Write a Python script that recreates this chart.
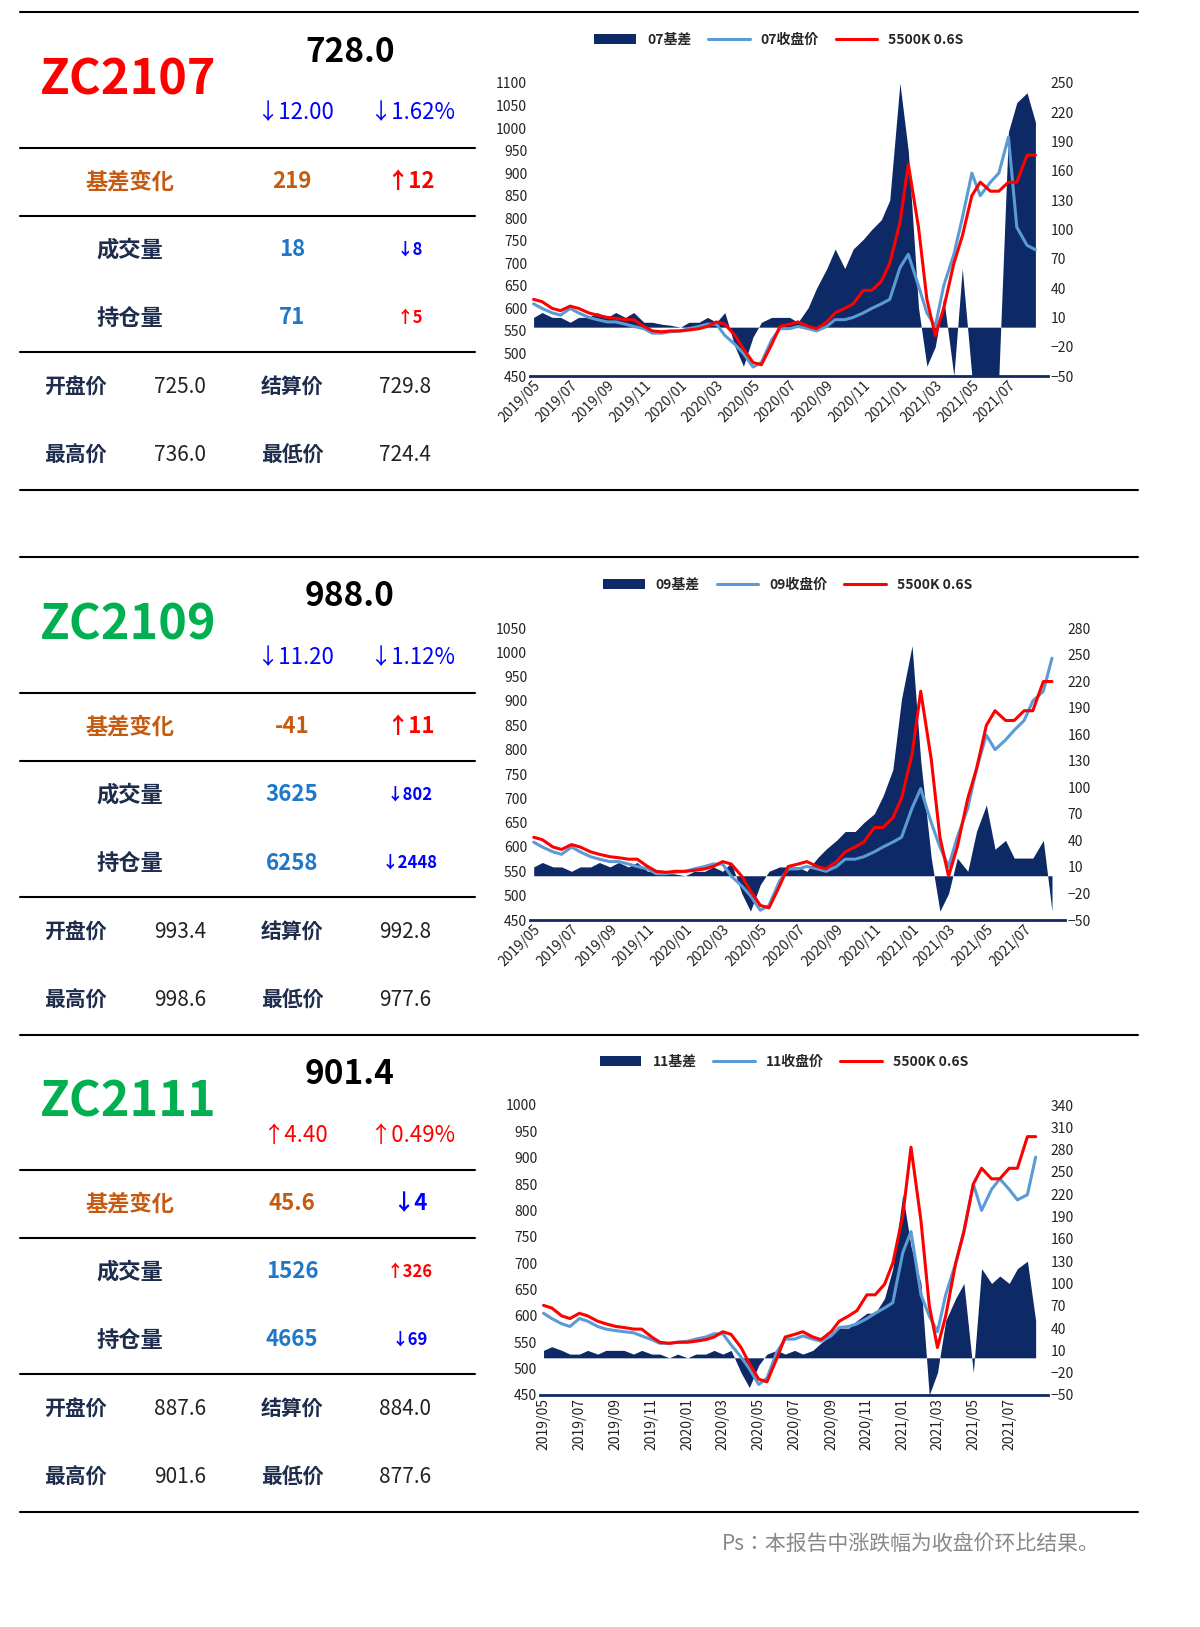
import numpy as np, pandas as pd, matplotlib
matplotlib.use("Agg")
import matplotlib.pyplot as plt, seaborn as sns
from matplotlib import font_manager as fm

sns.set_style("white")
cjk = [f.name for f in fm.fontManager.ttflist if "CJK" in f.name]
cjk_name = "Noto Sans CJK SC" if "Noto Sans CJK SC" in cjk else (cjk[0] if cjk else "DejaVu Sans")
plt.rcParams["font.family"] = "sans-serif"
plt.rcParams["font.sans-serif"] = [cjk_name, "DejaVu Sans"]

dates = pd.date_range("2019-05-01", periods=56, freq="SMS")
tick_labels = ["2019/05","2019/07","2019/09","2019/11","2020/01","2020/03","2020/05",
               "2020/07","2020/09","2020/11","2021/01","2021/03","2021/05","2021/07"]

spot = [620,615,600,595,605,600,590,585,580,578,575,575,560,550,548,550,550,552,555,560,
        570,565,540,510,480,475,520,560,565,570,560,555,570,590,600,610,640,640,660,700,
        790,920,780,620,540,600,700,760,850,880,860,860,880,880,940,940]
close07 = [610,600,590,585,600,590,580,575,570,570,565,560,555,545,545,548,550,555,560,565,
           565,540,520,500,470,480,530,555,555,560,555,550,560,575,575,580,590,600,610,620,
           690,720,650,590,560,650,720,800,900,850,880,900,980,780,740,730]
close09 = [610,600,590,585,600,590,580,575,570,570,565,560,555,545,545,548,550,555,560,565,
           565,540,520,500,470,480,530,555,555,560,555,550,560,575,575,580,590,600,610,620,
           680,720,650,600,560,620,680,760,830,800,820,840,860,900,920,988]
close11 = [605,595,585,580,595,590,580,575,572,570,568,562,555,548,548,550,552,556,560,566,
           566,545,522,500,470,482,532,556,556,562,556,552,562,578,580,585,595,605,615,625,
           720,760,640,600,570,640,700,760,850,800,840,860,840,820,830,901]
basis07 = [10,15,10,10,5,10,10,15,10,15,10,15,5,5,3,2,0,5,5,10,5,15,-20,-40,-10,5,10,10,10,5,
           20,40,60,80,60,80,90,100,110,130,250,180,20,-40,-20,30,-50,60,-50,-50,-50,-50,200,230,240,210]
basis09 = [10,15,10,10,5,10,10,15,10,15,10,15,5,5,3,2,0,5,5,10,5,15,-20,-40,-10,5,10,10,10,5,
           20,30,40,50,50,60,70,90,120,200,260,130,20,-40,-20,20,5,50,80,30,40,20,20,20,40,-40]
basis11 = [10,15,10,5,5,10,5,10,10,10,5,10,5,5,0,5,0,5,5,10,5,10,-20,-40,-10,5,10,5,10,5,
           10,20,30,40,40,50,60,60,80,120,220,150,100,-50,-20,50,80,100,-20,120,100,110,100,120,130,50]

panels = [
  dict(code="ZC2107", ccol="#ff0000", price="728.0", chg="↓12.00", pct="↓1.62%", chgcol="#0000ff",
       basis="219", bchg="↑12", bcol="#ff0000", vol="18", vchg="↓8", vcol="#0000ff",
       oi="71", oichg="↑5", oicol="#ff0000", op="725.0", st="729.8", hi="736.0", lo="724.4",
       close=close07, bas=basis07, leg="07", yl=(450,1100), yr=(-50,250), yrmax=250,
       box=(530,83,1048,376), rot=45),
  dict(code="ZC2109", ccol="#00b050", price="988.0", chg="↓11.20", pct="↓1.12%", chgcol="#0000ff",
       basis="-41", bchg="↑11", bcol="#ff0000", vol="3625", vchg="↓802", vcol="#0000ff",
       oi="6258", oichg="↓2448", oicol="#0000ff", op="993.4", st="992.8", hi="998.6", lo="977.6",
       close=close09, bas=basis09, leg="09", yl=(450,1050), yr=(-50,280), yrmax=280,
       box=(530,628,1065,920), rot=45),
  dict(code="ZC2111", ccol="#00b050", price="901.4", chg="↑4.40", pct="↑0.49%", chgcol="#ff0000",
       basis="45.6", bchg="↓4", bcol="#0000ff", vol="1526", vchg="↑326", vcol="#ff0000",
       oi="4665", oichg="↓69", oicol="#0000ff", op="887.6", st="884.0", hi="901.6", lo="877.6",
       close=close11, bas=basis11, leg="11", yl=(450,1000), yr=(-50,340), yrmax=340,
       box=(540,1105,1048,1395), rot=90),
]
offsets = [0, 545, 1022]

W, H = 1200, 1627
fig = plt.figure(figsize=(W/100, H/100), dpi=100)
def T(x, y, s, **kw):
    fig.text(x/W, 1-y/H, s, ha=kw.pop("ha","center"), va=kw.pop("va","center"), **kw)
def L(x0, x1, y, lw=1.5):
    fig.add_artist(plt.Line2D([x0/W, x1/W], [1-y/H, 1-y/H], color="black", lw=lw))

NAVY = "#0d2a66"; LB = "#5b9bd5"; ORG = "#c55a11"; VB = "#1f77c8"; DK = "#1f2d4d"
L(20, 1138, 12); L(20, 1138, 490); L(20, 1138, 557); L(20, 1138, 1035); L(20, 1138, 1512)
for p, o in zip(panels, offsets):
    T(128, 80+o, p["code"], fontsize=35, fontweight="bold", color=p["ccol"])
    T(350, 52+o, p["price"], fontsize=24, fontweight="bold", color="black")
    T(295, 113+o, p["chg"], fontsize=16, color=p["chgcol"])
    T(412, 113+o, p["pct"], fontsize=16, color=p["chgcol"])
    for yy in (148, 216, 352):
        L(20, 475, yy+o)
    T(130, 182+o, "基差变化", fontsize=16, fontweight="bold", color=ORG)
    T(292, 182+o, p["basis"], fontsize=16, fontweight="bold", color=ORG)
    T(410, 182+o, p["bchg"], fontsize=16, fontweight="bold", color=p["bcol"])
    T(130, 250+o, "成交量", fontsize=16, fontweight="bold", color=DK)
    T(292, 250+o, p["vol"], fontsize=16, fontweight="bold", color=VB)
    T(410, 250+o, p["vchg"], fontsize=12, fontweight="bold", color=p["vcol"])
    T(130, 318+o, "持仓量", fontsize=16, fontweight="bold", color=DK)
    T(292, 318+o, p["oi"], fontsize=16, fontweight="bold", color=VB)
    T(410, 318+o, p["oichg"], fontsize=12, fontweight="bold", color=p["oicol"])
    for yy, a, av, b, bv in ((387, "开盘价", p["op"], "结算价", p["st"]), (455, "最高价", p["hi"], "最低价", p["lo"])):
        T(75, yy+o, a, fontsize=15, fontweight="bold", color=DK)
        T(180, yy+o, av, fontsize=15, color="#222222")
        T(292, yy+o, b, fontsize=15, fontweight="bold", color=DK)
        T(405, yy+o, bv, fontsize=15, color="#222222")

    x0, y0, x1, y1 = p["box"]
    ax = fig.add_axes([x0/W, 1-y1/H, (x1-x0)/W, (y1-y0)/H])
    ax2 = ax.twinx()
    df = pd.DataFrame({"date": dates, "spot": spot, "close": p["close"], "basis": p["bas"]})
    ax2.fill_between(df["date"], 0, df["basis"], color=NAVY, lw=0, label=p["leg"]+"基差")
    sns.lineplot(data=df, x="date", y="close", ax=ax, color=LB, lw=2.2, label=p["leg"]+"收盘价", legend=False)
    sns.lineplot(data=df, x="date", y="spot", ax=ax, color="#ff0000", lw=2.2, label="5500K 0.6S", legend=False)
    ax.set_zorder(ax2.get_zorder()+1); ax.patch.set_visible(False)
    ax.set_ylim(*p["yl"]); ax2.set_ylim(*p["yr"])
    ax.set_yticks(np.arange(p["yl"][0], p["yl"][1]+1, 50))
    ax2.set_yticks(np.arange(-50, p["yrmax"]+1, 30))
    ax.set_xlim(pd.Timestamp("2019-04-25"), pd.Timestamp("2021-09-05"))
    ax.set_xticks(pd.to_datetime([t.replace("/", "-")+"-01" for t in tick_labels]))
    ax.set_xticklabels(tick_labels, rotation=p["rot"], ha="right" if p["rot"] == 45 else "center",
                       rotation_mode="anchor" if p["rot"] == 45 else "default")
    for a in (ax, ax2):
        for s in a.spines.values(): s.set_visible(False)
        a.tick_params(length=0, labelsize=10, colors="#222222", pad=2)
        a.set_xlabel(""); a.set_ylabel("")
    ax.spines["bottom"].set_visible(True); ax.spines["bottom"].set_color(NAVY); ax.spines["bottom"].set_linewidth(2)
    h1, l1 = ax2.get_legend_handles_labels(); h2, l2 = ax.get_legend_handles_labels()
    fig.legend(h1+h2, l1+l2, loc="center", bbox_to_anchor=(((x0+x1)/2-10)/W, 1-(40+o if o<1000 else 1062)/H),
               ncol=3, frameon=False, handlelength=3, columnspacing=1.2,
               prop={"weight": "bold", "size": 10, "family": cjk_name})

T(1100, 1545, "Ps：本报告中涨跌幅为收盘价环比结果。", fontsize=15, color="#888888", ha="right")
fig.savefig("out.png", dpi=100)
